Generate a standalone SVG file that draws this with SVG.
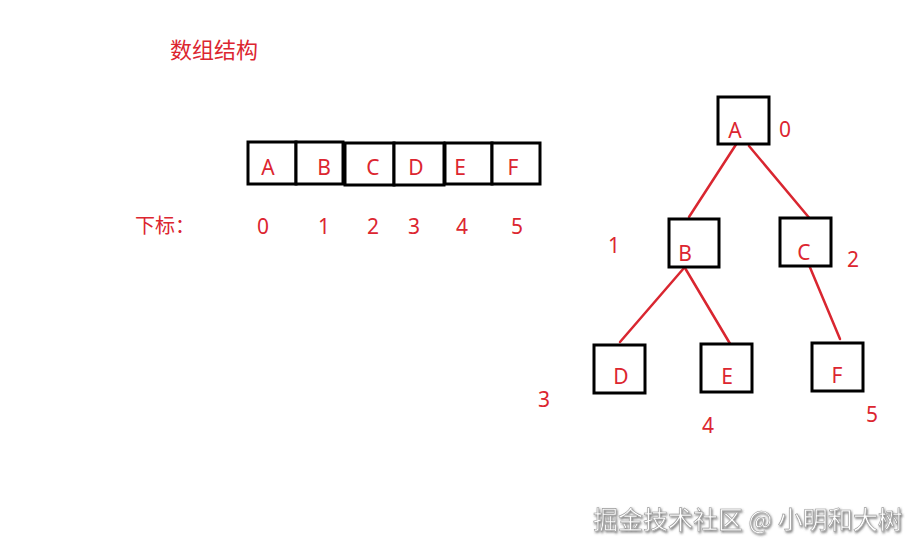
<svg xmlns="http://www.w3.org/2000/svg" width="920" height="552" viewBox="0 0 920 552">
<defs>
<style>
.t{font-family:"Noto Sans","Noto Sans CJK SC",sans-serif;fill:#dc2630;font-size:21px;text-anchor:middle}
.zh{font-family:"Noto Sans CJK SC",sans-serif;fill:#dc2630;font-size:21px}
.box{fill:#fff;stroke:#000;stroke-width:3}
.edge{stroke:#d92630;stroke-width:2.5;fill:none;stroke-linecap:round}
.wm{font-family:"Noto Sans CJK SC",sans-serif;font-size:25px;fill:#fff;stroke:#9a9a9a;stroke-width:0.6;filter:url(#sh)}
</style>
<filter id="sh" x="-5%" y="-30%" width="110%" height="160%">
<feDropShadow dx="1" dy="1.5" stdDeviation="0.8" flood-color="#555" flood-opacity="0.8"/>
</filter>
</defs>
<rect width="920" height="552" fill="#fff"/>
<text class="zh" x="170" y="58" style="font-size:22px">数组结构</text>

<g id="array">
<g id="arr-A"><rect class="box" x="248" y="142" width="48" height="42"/><text class="t" x="268" y="175">A</text></g>
<g id="arr-B"><rect class="box" x="296" y="142" width="47" height="42"/><text class="t" x="324" y="175">B</text></g>
<g id="arr-C"><rect class="box" x="345" y="143" width="49" height="42"/><text class="t" x="373" y="175">C</text></g>
<g id="arr-D"><rect class="box" x="394" y="143" width="50" height="42"/><text class="t" x="416" y="175">D</text></g>
<g id="arr-E"><rect class="box" x="445" y="143" width="47" height="41"/><text class="t" x="460" y="175">E</text></g>
<g id="arr-F"><rect class="box" x="492" y="143" width="48" height="41"/><text class="t" x="513" y="175">F</text></g>
</g>

<g id="index">
<text class="zh" x="135" y="233" style="font-size:20px">下标：</text>
<text class="t" x="263" y="234">0</text>
<text class="t" x="324" y="234">1</text>
<text class="t" x="373" y="234">2</text>
<text class="t" x="414" y="234">3</text>
<text class="t" x="462" y="234">4</text>
<text class="t" x="517" y="234">5</text>
</g>

<g id="connectors">
<line class="edge" x1="737" y1="143" x2="689" y2="217"/>
<line class="edge" x1="749" y1="146" x2="811" y2="220"/>
<line class="edge" x1="684" y1="268" x2="620" y2="342"/>
<line class="edge" x1="685" y1="268" x2="732" y2="347"/>
<line class="edge" x1="809" y1="265" x2="840" y2="339"/>
</g>

<g id="node-A"><rect class="box" x="718" y="97" width="51" height="47"/><text class="t" x="735" y="138">A</text><text class="t" x="785" y="137">0</text></g>
<g id="node-B"><rect class="box" x="669" y="219" width="50" height="48"/><text class="t" x="685" y="261">B</text><text class="t" x="614" y="253">1</text></g>
<g id="node-C"><rect class="box" x="780" y="218" width="51" height="48"/><text class="t" x="804" y="260">C</text><text class="t" x="853" y="267">2</text></g>
<g id="node-D"><rect class="box" x="594" y="345" width="51" height="48"/><text class="t" x="621" y="384">D</text><text class="t" x="544" y="407">3</text></g>
<g id="node-E"><rect class="box" x="701" y="344" width="51" height="48"/><text class="t" x="727" y="384">E</text><text class="t" x="708" y="433">4</text></g>
<g id="node-F"><rect class="box" x="812" y="343" width="51" height="48"/><text class="t" x="837" y="383">F</text><text class="t" x="872" y="422">5</text></g>

<text class="wm" x="593" y="529">掘金技术社区 @ 小明和大树</text>
</svg>
